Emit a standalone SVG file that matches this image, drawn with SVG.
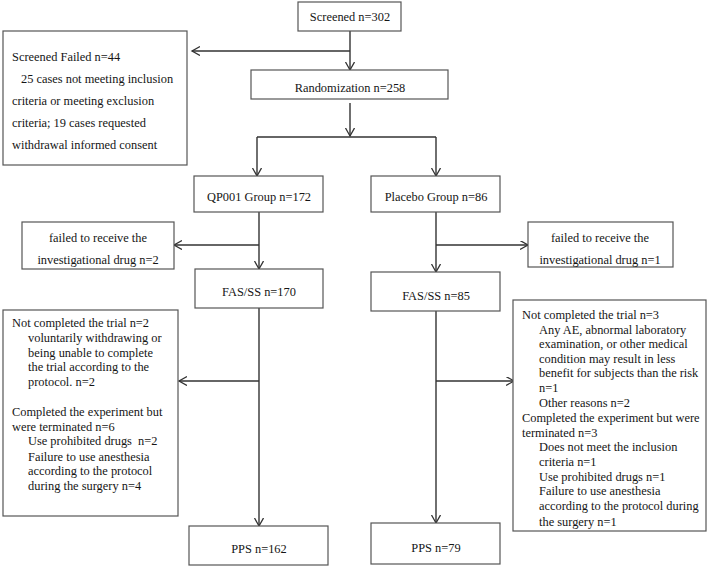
<svg xmlns="http://www.w3.org/2000/svg" width="709" height="568" viewBox="0 0 709 568" font-family="'Liberation Serif', 'Times New Roman', serif">
<defs>
<style>
.box{fill:#fff;stroke:#555;stroke-width:1.2}
.ln{fill:none;stroke:#333;stroke-width:1.4}
text{font-family:'Liberation Serif','Times New Roman',serif;font-size:12.4px;fill:#151515}
.c{text-anchor:middle}
</style>
<marker id="ah" markerUnits="userSpaceOnUse" markerWidth="12" markerHeight="12" refX="8" refY="4.5" orient="auto">
<path d="M0,0 L8,4.5 L0,9" fill="none" stroke="#333" stroke-width="1.3"/>
</marker>
</defs>
<rect width="709" height="568" fill="#fff"/>
<g id="connectors">
<path class="ln" d="M350,31 V70" marker-end="url(#ah)"/>
<path class="ln" d="M350,51 H192" marker-end="url(#ah)"/>
<path class="ln" d="M350,103 V136" marker-end="url(#ah)"/>
<path class="ln" d="M257,137 H436"/>
<path class="ln" d="M257,137 V176" marker-end="url(#ah)"/>
<path class="ln" d="M436,137 V176" marker-end="url(#ah)"/>
<path class="ln" d="M259,212 V269" marker-end="url(#ah)"/>
<path class="ln" d="M259,245 H174" marker-end="url(#ah)"/>
<path class="ln" d="M436,212 V272" marker-end="url(#ah)"/>
<path class="ln" d="M436,245 H528" marker-end="url(#ah)"/>
<path class="ln" d="M259,308 V526" marker-end="url(#ah)"/>
<path class="ln" d="M259,381 H179" marker-end="url(#ah)"/>
<path class="ln" d="M436,311 V523" marker-end="url(#ah)"/>
<path class="ln" d="M436,381 H514" marker-end="url(#ah)"/>
</g>
<g id="screened">
<rect class="box" x="298" y="2" width="103" height="29"/>
<text class="c" x="350" y="21">Screened n=302</text>
</g>
<g id="screenfail">
<rect class="box" x="3" y="31" width="184" height="134"/>
<text x="12" y="61">Screened Failed n=44</text>
<text x="21" y="83">25 cases not meeting inclusion</text>
<text x="12" y="105">criteria or meeting exclusion</text>
<text x="12" y="127">criteria; 19 cases requested</text>
<text x="12" y="149">withdrawal informed consent</text>
</g>
<g id="random">
<rect class="box" x="251" y="70" width="197" height="29"/>
<text class="c" x="350" y="92">Randomization n=258</text>
</g>
<g id="qp001">
<rect class="box" x="194" y="176" width="129" height="36"/>
<text class="c" x="259" y="201">QP001 Group n=172</text>
</g>
<g id="placebo">
<rect class="box" x="371" y="176" width="129" height="36"/>
<text class="c" x="436" y="201">Placebo Group n=86</text>
</g>
<g id="fail-left">
<rect class="box" x="22" y="222" width="152" height="47"/>
<text class="c" x="98" y="242">failed to receive the</text>
<text class="c" x="98" y="264">investigational drug n=2</text>
</g>
<g id="fail-right">
<rect class="box" x="528" y="222" width="145" height="45"/>
<text class="c" x="600" y="242">failed to receive the</text>
<text class="c" x="600" y="264">investigational drug n=1</text>
</g>
<g id="fas-left">
<rect class="box" x="195" y="269" width="128" height="39"/>
<text class="c" x="259" y="296">FAS/SS n=170</text>
</g>
<g id="fas-right">
<rect class="box" x="371" y="272" width="129" height="39"/>
<text class="c" x="436" y="300">FAS/SS n=85</text>
</g>
<g id="excl-left">
<rect class="box" x="3" y="310" width="175" height="206"/>
<text x="12" y="327">Not completed the trial n=2</text>
<text x="28" y="342">voluntarily withdrawing or</text>
<text x="28" y="357">being unable to complete</text>
<text x="28" y="371">the trial according to the</text>
<text x="28" y="386">protocol. n=2</text>
<text x="12" y="416">Completed the experiment but</text>
<text x="12" y="431">were terminated n=6</text>
<text x="28" y="445" xml:space="preserve">Use prohibited drugs  n=2</text>
<text x="28" y="461">Failure to use anesthesia</text>
<text x="28" y="475">according to the protocol</text>
<text x="28" y="490">during the surgery n=4</text>
</g>
<g id="excl-right">
<rect class="box" x="513" y="300" width="193" height="231"/>
<text x="522" y="319">Not completed the trial n=3</text>
<text x="539" y="334">Any AE, abnormal laboratory</text>
<text x="539" y="348">examination, or other medical</text>
<text x="539" y="363">condition may result in less</text>
<text x="539" y="377">benefit for subjects than the risk</text>
<text x="539" y="392">n=1</text>
<text x="539" y="407">Other reasons n=2</text>
<text x="522" y="422">Completed the experiment but were</text>
<text x="522" y="437">terminated n=3</text>
<text x="539" y="451">Does not meet the inclusion</text>
<text x="539" y="466">criteria n=1</text>
<text x="539" y="481">Use prohibited drugs n=1</text>
<text x="539" y="495">Failure to use anesthesia</text>
<text x="539" y="510">according to the protocol during</text>
<text x="539" y="526">the surgery n=1</text>
</g>
<g id="pps-left">
<rect class="box" x="189" y="526" width="139" height="39"/>
<text class="c" x="259" y="553">PPS n=162</text>
</g>
<g id="pps-right">
<rect class="box" x="371" y="523" width="129" height="41"/>
<text class="c" x="436" y="552">PPS n=79</text>
</g>
</svg>
